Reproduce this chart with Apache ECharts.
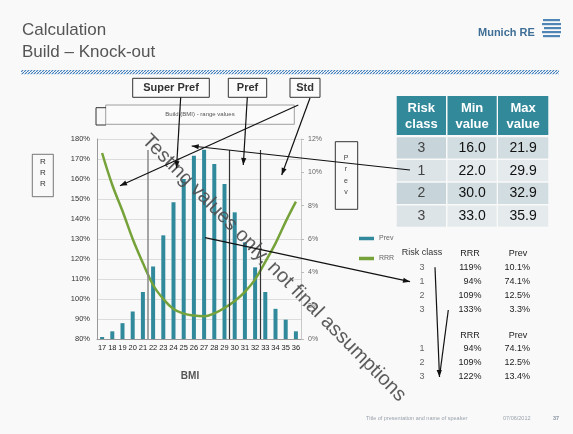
<!DOCTYPE html>
<html><head><meta charset="utf-8">
<script src="https://cdn.jsdelivr.net/npm/echarts@6/dist/echarts.min.js"></script>
<style>html,body{margin:0;padding:0;background:#f9f9f9;}#c{width:573px;height:434px;}</style>
</head><body><div id="c"></div>
<script>
// ---- data ----
const categories = ['17','18','19','20','21','22','23','24','25','26','27','28','29','30','31','32','33','34','35','36'];
const prevValues = [0.12,0.46,0.95,1.65,2.82,4.35,6.22,8.2,9.6,11.0,11.35,10.5,9.3,7.6,5.8,4.3,2.82,1.81,1.16,0.46];
const rrrValues  = [173,157,144,130,118,107,100,95,92.7,91.7,91.4,92.8,95.5,99,103.6,109.8,118.6,127.8,138.7,148.7];
const rrrTicks = {min:80, max:180, step:10};
const prevTicks = {min:0, max:12, step:2};
const bandStarts = [22.0, 30.0, 33.0];
const bandLabels = ['Super Pref','Pref','Std'];

const riskClasses = ['3','1','2','3'];
const minValues = ['16.0','22.0','30.0','33.0'];
const maxValues = ['21.9','29.9','32.9','35.9'];
const tableHeaders = ['Risk\nclass','Min\nvalue','Max\nvalue'];

const resClasses1 = ['3','1','2','3'];
const resRRR1 = ['119%','94%','109%','133%'];
const resPrev1 = ['10.1%','74.1%','12.5%','3.3%'];
const resClasses2 = ['1','2','3'];
const resRRR2 = ['94%','109%','122%'];
const resPrev2 = ['74.1%','12.5%','13.4%'];

// ---- helpers ----
const F = 'Arial, "Liberation Sans", sans-serif';
const g = [];
function txt(x,y,t,size,color,opts){
  opts=opts||{};
  g.push({type:'text',x:x,y:y,silent:true,z:opts.z||10,rotation:opts.rot||0,
    style:{text:t,font:(opts.bold?'bold ':'')+size+'px '+F,fill:color,
      align:opts.align||'left',verticalAlign:opts.va||'middle',lineHeight:opts.lh||undefined,opacity:opts.op==null?1:opts.op}});
}
function rect(x,y,w,h,fill,stroke,lw,z){
  g.push({type:'rect',silent:true,z:z||5,shape:{x:x,y:y,width:w,height:h},
    style:{fill:fill||'none',stroke:stroke||'none',lineWidth:lw||1}});
}
function arrow(x1,y1,x2,y2,head){
  g.push({type:'line',silent:true,z:20,shape:{x1:x1,y1:y1,x2:x2,y2:y2},style:{stroke:'#111',lineWidth:1.2}});
  if(head!==false){
    const a=Math.atan2(y2-y1,x2-x1), L=7, W=2.6;
    const bx=x2-L*Math.cos(a), by=y2-L*Math.sin(a);
    g.push({type:'polygon',silent:true,z:20,shape:{points:[[x2,y2],[bx+W*Math.sin(a),by-W*Math.cos(a)],[bx-W*Math.sin(a),by+W*Math.cos(a)]]},style:{fill:'#111'}});
  }
}

// title
txt(22,30,'Calculation',17,'#555');
txt(22,52,'Build \u2013 Knock-out',17,'#555');
// logo
txt(478,33,'Munich RE',11,'#3f6f96',{bold:true});
[[543,19,17],[542,23,19],[544,27,17],[542,31,19],[543,35,17]].forEach(function(r){rect(r[0],r[1],r[2],2.2,'#4f86b5');});
// hatched rule
const pc=document.createElement('canvas');pc.width=3;pc.height=3;
const px=pc.getContext('2d');px.fillStyle='#ffffff';px.fillRect(0,0,3,3);
px.strokeStyle='#3a78b5';px.lineWidth=1.1;px.beginPath();px.moveTo(-1,4);px.lineTo(4,-1);px.stroke();
g.push({type:'rect',silent:true,z:5,shape:{x:21,y:70,width:538,height:4.3},style:{fill:{image:pc,repeat:'repeat'}}});

// band label boxes
const boxX=[[132.7,209.3],[228.3,266.7],[290,320]];
bandLabels.forEach(function(l,i){
  rect(boxX[i][0],78.3,boxX[i][1]-boxX[i][0],19,'#fbfbfb','#333',1,8);
  txt((boxX[i][0]+boxX[i][1])/2,88,l,11,'#333',{bold:true,align:'center'});
});
// build box
rect(105.7,105,188.6,19.3,'#fbfbfb','#888',0.8,6);
txt(200,114.7,'Build (BMI) - range values',6,'#555',{align:'center'});
g.push({type:'polyline',silent:true,z:7,shape:{points:[[106,107.7],[96,107.7],[96,125],[106,125]]},style:{stroke:'#333',lineWidth:1,fill:'none'}});
// RRR side box
rect(32.3,154.3,21,42.4,'none','#555',0.8);
['R','R','R'].forEach(function(c,i){txt(43,162+i*11,c,8,'#333',{align:'center'});});
// Prev side box
rect(335.3,141.7,22.4,67.6,'none','#333',1);
['P','r','e','v'].forEach(function(c,i){txt(346,158+i*11.5,c,7,'#444',{align:'center'});});

// risk table
const colX=[[396.7,446],[447.5,496.7],[498,548.3]];
tableHeaders.forEach(function(h,i){
  rect(colX[i][0],96,colX[i][1]-colX[i][0],39,'#32899a');
  txt((colX[i][0]+colX[i][1])/2,116,h,13,'#fff',{bold:true,align:'center',lh:16});
});
riskClasses.forEach(function(rc,r){
  const y=137.3+r*22.7, h=21.3;
  const odd=(r%2===0);
  rect(colX[0][0],y,colX[0][1]-colX[0][0],h,odd?'#c7d5da':'#dce4e7');
  rect(colX[1][0],y,colX[1][1]-colX[1][0],h,odd?'#d2dde1':'#e5ebed');
  rect(colX[2][0],y,colX[2][1]-colX[2][0],h,odd?'#d2dde1':'#e5ebed');
  txt((colX[0][0]+colX[0][1])/2,y+h/2,rc,14,'#444',{align:'center'});
  txt((colX[1][0]+colX[1][1])/2,y+h/2,minValues[r],14,'#111',{align:'center'});
  txt((colX[2][0]+colX[2][1])/2,y+h/2,maxValues[r],14,'#111',{align:'center'});
});

// result text table
txt(422,252.7,'Risk class',9,'#333',{align:'center'});
txt(470,253.5,'RRR',9,'#222',{align:'center'});
txt(518,253.5,'Prev',9,'#222',{align:'center'});
resClasses1.forEach(function(c,i){
  const y=267.3+i*14.2;
  txt(422,y,c,9,'#666',{align:'center'});
  txt(481.5,y,resRRR1[i],9,'#222',{align:'right'});
  txt(530,y,resPrev1[i],9,'#222',{align:'right'});
});
txt(470,335.3,'RRR',9,'#222',{align:'center'});
txt(518,335.3,'Prev',9,'#222',{align:'center'});
resClasses2.forEach(function(c,i){
  const y=348.3+i*14.2;
  txt(422,y,c,9,'#666',{align:'center'});
  txt(481.5,y,resRRR2[i],9,'#222',{align:'right'});
  txt(530,y,resPrev2[i],9,'#222',{align:'right'});
});

// footer
txt(366,418.5,'Title of presentation and name of speaker',5.5,'#9aa3ad');
txt(503,418.5,'07/06/2012',5.5,'#9aa3ad');
txt(553,418.5,'37',5.5,'#8a94a3',{bold:true});

// watermark
txt(274,268,'Testing values only, not final assumptions',20,'#4e4e4e',{align:'center',rot:-0.792,z:15,op:0.92});

// arrows
arrow(180.7,97.3,176.5,168);
arrow(247.3,97.3,243.3,165);
arrow(310,98,281.7,175);
arrow(298.3,105,120,185.7);
arrow(410,170,191.7,146);
arrow(205,237.7,410,281.7);
arrow(435,267.3,439.5,377);
arrow(448.3,310,440,373,false);

const chart = echarts.init(document.getElementById('c'), null, {renderer:'canvas'});
chart.setOption({
  backgroundColor:'#f9f9f9',
  animation:false,
  textStyle:{fontFamily:F},
  grid:{left:97,top:139,width:204,height:200,containLabel:false},
  legend:{
    orient:'vertical',left:354,top:230,itemWidth:15,itemHeight:3.5,itemGap:13,
    data:[{name:'Prev',icon:'rect'},{name:'RRR',icon:'rect'}],
    textStyle:{fontSize:7,color:'#666'},selectedMode:false
  },
  xAxis:[{
    type:'category',data:categories,
    axisLine:{lineStyle:{color:'#999'}},axisTick:{show:false},
    axisLabel:{interval:0,fontSize:7.5,color:'#222',margin:5},
    name:'BMI',nameLocation:'middle',nameGap:32,
    nameTextStyle:{fontSize:10,fontWeight:'bold',color:'#555',padding:[0,18,0,0]}
  },{
    type:'value',min:16.5,max:36.5,show:false
  }],
  yAxis:[{
    type:'value',min:rrrTicks.min,max:rrrTicks.max,interval:rrrTicks.step,position:'left',
    axisLine:{show:true,lineStyle:{color:'#999'}},axisTick:{show:false},
    axisLabel:{formatter:'{value}%',fontSize:7.5,color:'#333',margin:7},
    splitLine:{lineStyle:{color:'#dcdcdc'}}
  },{
    type:'value',min:prevTicks.min,max:prevTicks.max,interval:prevTicks.step,position:'right',
    axisLine:{show:true,lineStyle:{color:'#c8c8c8'}},axisTick:{show:true,length:3,lineStyle:{color:'#bbb'}},
    axisLabel:{formatter:'{value}%',fontSize:7,color:'#666',margin:7},
    splitLine:{show:false}
  }],
  series:[{
    name:'Prev',type:'bar',xAxisIndex:0,yAxisIndex:1,data:prevValues,barWidth:4,
    itemStyle:{color:'#31899c'},z:2
  },{
    name:'RRR',type:'line',xAxisIndex:0,yAxisIndex:0,data:rrrValues,smooth:0.4,symbol:'none',
    lineStyle:{color:'#76a23a',width:2.5},itemStyle:{color:'#76a23a'},z:3
  },{
    name:'bands',type:'line',xAxisIndex:1,yAxisIndex:0,data:[],
    markLine:{silent:true,symbol:'none',label:{show:false},
      data:bandStarts.map(function(v,i){
        return [{coord:[v-0.5,80],lineStyle:{color:i===0?'#888':'#333',width:i===0?1.5:1.2,type:'solid'}},{coord:[v-0.5,174.5]}];
      })},
    z:4
  }],
  graphic:g
});
</script></body></html>
